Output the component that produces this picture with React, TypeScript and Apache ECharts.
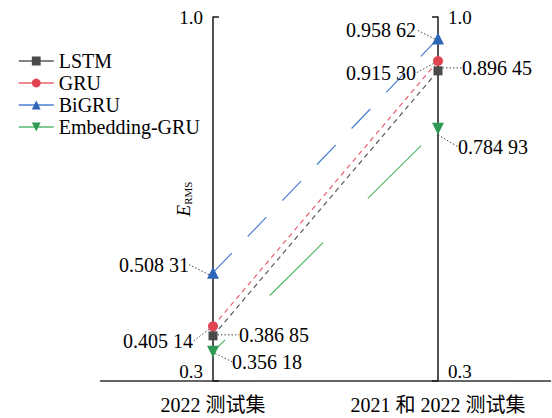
import React, { useEffect, useRef } from 'react';
import * as echarts from 'echarts';

// ---- data ----
const categories = ['2022 测试集', '2021 和 2022 测试集'];
const seriesNames = ['LSTM', 'GRU', 'BiGRU', 'Embedding-GRU'];
const lstmValues = [0.38685, 0.89645];
const gruValues = [0.40514, 0.9153];
const bigruValues = [0.50831, 0.95862];
const embGruValues = [0.35618, 0.78493];
const yTickValues = [0.3, 1.0];

// ---- styling / layout ----
const FONT = "'Liberation Serif', 'Times New Roman', 'Noto Sans CJK SC', serif";

const labelShift: Record<string, [number, number][]> = {
  LSTM: [[61, -1], [59, -3]],
  GRU: [[-55, 15], [-57, 12]],
  BiGRU: [[-59, -8], [-57, -9]],
  'Embedding-GRU': [[54, 10], [55, 18]],
};

const fmtVal = (v: number) => {
  const s = v.toFixed(5);
  return s.slice(0, 5) + ' ' + s.slice(5);
};

function makeSeries(
  name: string,
  data: number[],
  symbol: string,
  symbolSize: number,
  markerColor: string,
  lineColor: string,
  dash: number[],
  dashOffset: number,
  symbolRotate = 0
) {
  return {
    name,
    type: 'line',
    data,
    symbol,
    symbolSize,
    symbolRotate,
    itemStyle: { color: markerColor },
    lineStyle: { color: lineColor, width: 1.2, type: dash, dashOffset },
    label: {
      show: true,
      position: 'inside',
      formatter: (p: any) => fmtVal(p.value),
      fontSize: 20,
      color: '#000',
      fontFamily: FONT,
    },
    labelLine: {
      show: true,
      lineStyle: { type: [1.5, 2], color: '#444', width: 1 },
    },
    labelLayout: (p: any) => {
      const s = labelShift[name][p.dataIndex];
      return { dx: s[0], dy: s[1] };
    },
  };
}

function yAxisCfg(position: 'left' | 'right', withName: boolean) {
  return {
    type: 'value',
    position,
    offset: -112.5,
    min: 0.3,
    max: 1.0,
    axisLine: { show: true, onZero: false, lineStyle: { color: '#1a1a1a', width: 1.5 } },
    axisTick: {
      show: true,
      inside: true,
      length: 6,
      customValues: yTickValues,
      lineStyle: { color: '#1a1a1a', width: 1.5 },
    },
    axisLabel: {
      customValues: yTickValues,
      margin: 10,
      fontSize: 19,
      fontFamily: FONT,
      color: '#000',
      verticalAlignMinLabel: 'bottom',
      formatter: (v: number) => v.toFixed(1),
    },
    splitLine: { show: false },
    ...(withName
      ? {
          name: '{e|E}{s|RMS}',
          nameLocation: 'middle',
          nameGap: 20,
          nameRotate: 90,
          nameMoveOverlap: false,
          nameTextStyle: {
            fontSize: 18,
            rich: {
              e: { fontSize: 19, fontStyle: 'italic', fontFamily: FONT, color: '#000' },
              s: { fontSize: 11, fontFamily: FONT, color: '#000', verticalAlign: 'bottom' },
            },
          },
        }
      : {}),
  };
}

export default function App() {
  const ref = useRef<HTMLDivElement>(null);
  useEffect(() => {
    document.body.style.margin = '0';
    if (!ref.current) return;
    const chart = echarts.init(ref.current, undefined, { renderer: 'svg' });
    chart.setOption({
      animation: false,
      backgroundColor: '#fff',
      textStyle: { fontFamily: FONT },
      grid: { left: 100.5, right: 1.5, top: 17, bottom: 37, outerBoundsMode: 'none' },
      legend: {
        orient: 'vertical',
        left: 13,
        top: 46,
        itemWidth: 35,
        itemHeight: 11,
        itemGap: 2,
        data: seriesNames,
        textStyle: { fontSize: 20, fontFamily: FONT, color: '#000', lineHeight: 20 },
        lineStyle: { type: 'solid', width: 1.5 },
      },
      xAxis: {
        type: 'category',
        data: categories,
        boundaryGap: true,
        axisLine: { onZero: false, lineStyle: { color: '#333', width: 1.5 } },
        axisTick: { alignWithLabel: true, length: 5, interval: 0, lineStyle: { color: '#333', width: 1.5 } },
        axisLabel: { interval: 0, fontSize: 20, margin: 14, color: '#000', fontFamily: FONT, hideOverlap: false },
      },
      yAxis: [yAxisCfg('left', true), yAxisCfg('right', false)],
      series: [
        makeSeries(seriesNames[0], lstmValues, 'rect', 9, '#4a4a4a', '#5a5a5a', [5, 4], 0),
        makeSeries(seriesNames[1], gruValues, 'circle', 10, '#e04450', '#e8606e', [5, 4], 0),
        makeSeries(seriesNames[2], bigruValues, 'triangle', 12, '#2f66b8', '#4a7fd0', [27, 23], 0),
        makeSeries(seriesNames[3], embGruValues, 'triangle', 12, '#2f9a55', '#58b870', [75, 63], 58, 180),
      ],
    });
    return () => chart.dispose();
  }, []);
  return <div ref={ref} style={{ width: 552, height: 418 }} />;
}
